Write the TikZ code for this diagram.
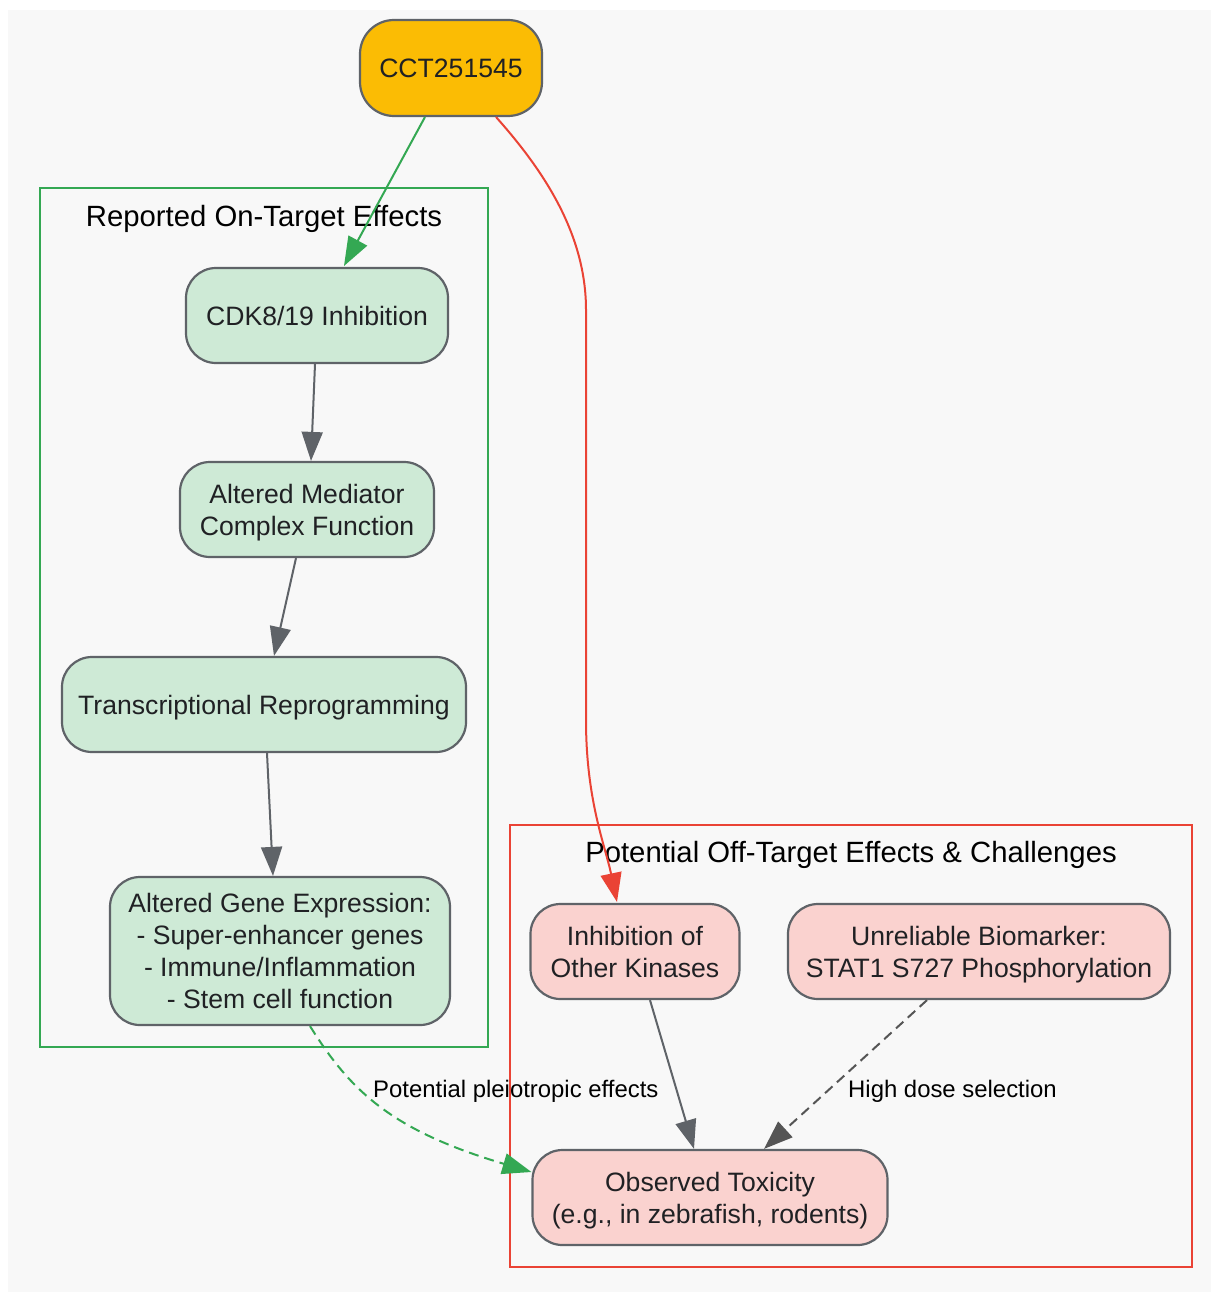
\documentclass[tikz,border=0pt]{standalone}
\usepackage{fontspec}
\setmainfont{Liberation Sans}
\usetikzlibrary{arrows.meta}
\definecolor{bgc}{HTML}{F8F8F8}
\definecolor{ylw}{HTML}{FBBC04}
\definecolor{gborder}{HTML}{5F6368}
\definecolor{gfill}{HTML}{CEEAD6}
\definecolor{rfill}{HTML}{FAD2CF}
\definecolor{ggreen}{HTML}{34A853}
\definecolor{gred}{HTML}{EA4335}
\definecolor{txt}{HTML}{202124}
\definecolor{dashg}{HTML}{555555}
\newcommand\topst{\rule{0pt}{25pt}}
\newcommand\botst{\rule[-6pt]{0pt}{0pt}}
\begin{document}
\begin{tikzpicture}[x=1pt,y=-1pt,
  box/.style={draw=gborder,line width=2.2pt,rounded corners=30pt,inner sep=0pt,align=center,
    text=txt,font=\fontsize{26.6}{32}\selectfont},
  cluster/.style={line width=2.2pt},
  ctitle/.style={font=\fontsize{29.3}{34}\selectfont,text=black,inner sep=0pt,anchor=base},
  elabel/.style={font=\fontsize{23.9}{28}\selectfont,text=black,inner sep=0pt,anchor=base west},
  arr/.style={line width=2pt,-{Triangle[length=29pt,width=21pt]}},
]
\useasboundingbox (0,0) rectangle (1211,1292);
\fill[bgc] (8,10) rectangle (1211,1292);

% clusters
\draw[cluster,ggreen] (40,188) rectangle (488,1047);
\node[ctitle] (t1) at (264,226) {Reported On-Target Effects};
\draw[cluster,gred] (510,825) rectangle (1192,1267);
\node[ctitle] (t2) at (851,862) {Potential Off-Target Effects \& Challenges};

% nodes
\node[box,fill=ylw,minimum width=182pt,minimum height=96pt,rounded corners=34pt] (cct) at (451,68) {\topst CCT251545\botst};
\node[box,fill=gfill,minimum width=262pt,minimum height=95pt] (cdk) at (317,315.5) {\topst CDK8/19 Inhibition\botst};
\node[box,fill=gfill,minimum width=254pt,minimum height=95pt] (med) at (307,509.5) {\topst Altered Mediator\\Complex Function\botst};
\node[box,fill=gfill,minimum width=404pt,minimum height=95pt] (tr) at (264,704.5) {\topst Transcriptional Reprogramming\botst};
\node[box,fill=gfill,minimum width=340pt,minimum height=148pt] (gene) at (280,951) {\topst Altered Gene Expression:\\- Super-enhancer genes\\- Immune/Inflammation\\- Stem cell function\botst};
\node[box,fill=rfill,minimum width=209pt,minimum height=95pt] (ok) at (635,951.5) {\topst Inhibition of\\Other Kinases\botst};
\node[box,fill=rfill,minimum width=382pt,minimum height=95pt] (bio) at (979,951.5) {\topst Unreliable Biomarker:\\STAT1 S727 Phosphorylation\botst};
\node[box,fill=rfill,minimum width=355pt,minimum height=95pt] (tox) at (710,1197.5) {\topst Observed Toxicity\\(e.g., in zebrafish, rodents)\botst};

% coordinates for edge ends
\coordinate (c1) at (425,117);
\coordinate (c1e) at (344,266);
\coordinate (c2) at (496,117);
\coordinate (c2e) at (617,902);

% edges
\draw[arr,ggreen] (c1) -- (c1e);
\draw[arr,gred] (c2) .. controls (545,172) and (586,235) .. (586,310) -- (586,720) .. controls (586,800) and (605,845) .. (c2e);
\draw[arr,gborder] (cdk.south -| 315,0) -- (med.north -| 311,0);
\draw[arr,gborder] (med.south -| 296,0) -- (tr.north -| 274,0);
\draw[arr,gborder] (tr.south -| 267,0) -- (gene.north -| 273,0);
\draw[arr,ggreen,dashed,dash pattern=on 10pt off 6pt] (gene.south -| 310,0) .. controls (350,1090) and (390,1130) .. (tox.west |- 0,1172);
\node[elabel] (l1) at (373,1097) {Potential pleiotropic effects};
\draw[arr,gborder] (ok.south -| 650,0) -- (tox.north -| 694,0);
\draw[arr,dashg,dashed,dash pattern=on 10pt off 6pt] (bio.south -| 927,0) -- (tox.north -| 764,0);
\node[elabel] (l2) at (848,1097) {High dose selection};
\end{tikzpicture}
\end{document}
